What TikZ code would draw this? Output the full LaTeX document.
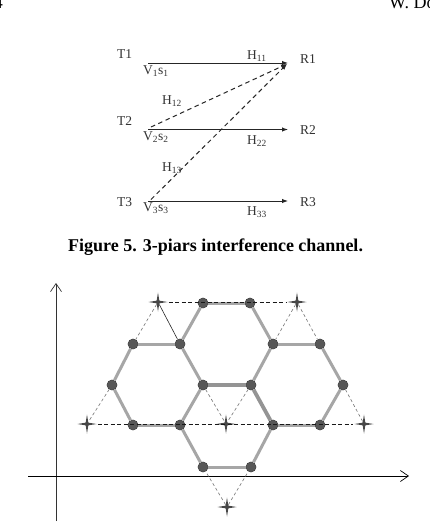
\documentclass[tikz,border=0pt]{standalone}
\usepackage{fontspec}
\setmainfont{Liberation Serif}
\usetikzlibrary{arrows.meta,shapes.geometric}
\begin{document}
\begin{tikzpicture}[x=1pt,y=-1pt,
  lbl/.style={inner sep=0,anchor=base west,font=\fontsize{13.5}{15}\selectfont,text=black!80},
  chan/.style={line width=1pt,draw=black!85,-{Latex[length=6pt,width=4.5pt]}},
  ichan/.style={chan,dash pattern=on 4.5pt off 3.5pt},
  dot/.style={circle,inner sep=0,minimum size=10pt,fill=black!66,draw=black!78,line width=0.6pt},
  starnode/.style={star,star points=4,star point ratio=5,minimum size=19pt,inner sep=0,fill=black!72,draw=none},
  hexedge/.style={line width=3pt,draw=black!35},
  hexthick/.style={line width=3.8pt,draw=black!42},
  blackdash/.style={line width=0.6pt,draw=black!90,dash pattern=on 4pt off 2.5pt},
  graydash/.style={line width=0.6pt,draw=black!55,dash pattern=on 3pt off 2.5pt},
  axis/.style={line width=0.7pt,-{Straight Barb[length=8pt,width=11pt,line width=0.7pt]}}
]
\fill[white] (0,0) rectangle (430,528);
\useasboundingbox (0,0) rectangle (430,528);
\clip (0,0) rectangle (430,528);

% page header pieces
\node[inner sep=0,anchor=base east,font=\fontsize{18}{20}\selectfont] (pg) at (3,8) {4};
\node[inner sep=0,anchor=base west,font=\fontsize{18}{20}\selectfont] (au) at (389,8) {W. Do};

% ---------- Figure 5 ----------
\node[lbl] (T1) at (117,58) {T1};
\node[lbl] (T2) at (117,125) {T2};
\node[lbl] (T3) at (117,206) {T3};
\node[lbl] (R1) at (300,63) {R1};
\node[lbl] (R2) at (300,134) {R2};
\node[lbl] (R3) at (300,206) {R3};
\node[lbl] (V1) at (143,74) {V\textsubscript{1}s\textsubscript{1}};
\node[lbl] (V2) at (143,140) {V\textsubscript{2}s\textsubscript{2}};
\node[lbl] (V3) at (143,211) {V\textsubscript{3}s\textsubscript{3}};
\node[lbl] (H11) at (247,59) {H\textsubscript{11}};
\node[lbl] (H12) at (162,104) {H\textsubscript{12}};
\node[lbl] (H22) at (247,144) {H\textsubscript{22}};
\node[lbl] (H13) at (162,171) {H\textsubscript{13}};
\node[lbl] (H33) at (247,215) {H\textsubscript{33}};

\coordinate (s1) at (148,63);
\coordinate (s2) at (148,129.5);
\coordinate (s3) at (148,201);
\coordinate (r1) at (288,63);
\coordinate (r2) at (288,129.5);
\coordinate (r3) at (288,201);
\coordinate (d2) at (151,127);
\coordinate (d3) at (151,199.5);
\coordinate (r1b) at (287,64);

\draw[chan] (s1) -- (r1);
\draw[chan] (s2) -- (r2);
\draw[chan] (s3) -- (r3);
\draw[ichan] (d2) -- (r1b);
\draw[ichan] (d3) -- (r1b);

\node[inner sep=0,anchor=base west,font=\fontsize{18}{20}\selectfont\bfseries] (cap) at (68,251)
  {Figure 5. 3-piars interference channel.};

% ---------- lattice figure ----------
\coordinate (yb) at (56,521);
\coordinate (yt) at (56,283);
\coordinate (xl) at (28,476);
\coordinate (xr) at (409,476);
\draw[axis,draw=black!80] (yb) -- (yt);
\draw[axis] (xl) -- (xr);

\node[dot] (a1) at (203,303) {};
\node[dot] (a2) at (250,303) {};
\node[dot] (b1) at (133,344) {};
\node[dot] (b2) at (180,344) {};
\node[dot] (b3) at (273,344) {};
\node[dot] (b4) at (320,344) {};
\node[dot] (c1) at (112,385) {};
\node[dot] (c2) at (203,385) {};
\node[dot] (c3) at (251,385) {};
\node[dot] (c4) at (343,385) {};
\node[dot] (e1) at (133,425) {};
\node[dot] (e2) at (180,425) {};
\node[dot] (e3) at (273,425) {};
\node[dot] (e4) at (320,425) {};
\node[dot] (f1) at (203,467) {};
\node[dot] (f2) at (251,467) {};

% hexagon edges
\draw[hexedge] (a1) -- (a2);
\draw[hexedge] (a2) -- (b3);
\draw[hexedge] (b3) -- (c3);
\draw[hexthick] (c3) -- (c2);
\draw[hexedge] (c2) -- (b2);
\draw[hexedge] (b2) -- (a1);
\draw[hexedge] (b1) -- (b2);
\draw[hexedge] (b1) -- (c1);
\draw[hexedge] (c1) -- (e1);
\draw[hexedge] (e1) -- (e2);
\draw[hexedge] (e2) -- (c2);
\draw[hexedge] (b3) -- (b4);
\draw[hexedge] (b4) -- (c4);
\draw[hexedge] (c4) -- (e4);
\draw[hexedge] (e4) -- (e3);
\draw[hexthick] (e3) -- (c3);
\draw[hexedge] (e2) -- (f1);
\draw[hexedge] (f1) -- (f2);
\draw[hexedge] (f2) -- (e3);

% redraw dots over edges
\foreach \n in {a1,a2,b1,b2,b3,b4,c1,c2,c3,c4,e1,e2,e3,e4,f1,f2}
  \fill[black!66] (\n.center) circle (4.6pt);

% stars
\node[starnode] (sA) at (158,302) {};
\node[starnode] (sB) at (297,302) {};
\node[starnode] (sL) at (87,424) {};
\node[starnode] (sM) at (226,424) {};
\node[starnode] (sR) at (364,424) {};
\node[starnode] (sE) at (227,507) {};

% dashed triangle lines
\draw[blackdash] (sA) -- (sB);
\draw[blackdash] (sL) -- (sR);
\draw[graydash] (sA) -- (b1);
\draw[graydash] (c1) -- (sL);
\draw[graydash] (c2) -- (sM);
\draw[graydash] (sB) -- (b3);
\draw[graydash] (c3) -- (sM);
\draw[graydash] (sB) -- (b4);
\draw[graydash] (c4) -- (sR);
\draw[graydash] (sE) -- (f1);
\draw[graydash] (sE) -- (f2);
\draw[line width=0.6pt,black!85] (sA) -- (b2);
\end{tikzpicture}
\end{document}
